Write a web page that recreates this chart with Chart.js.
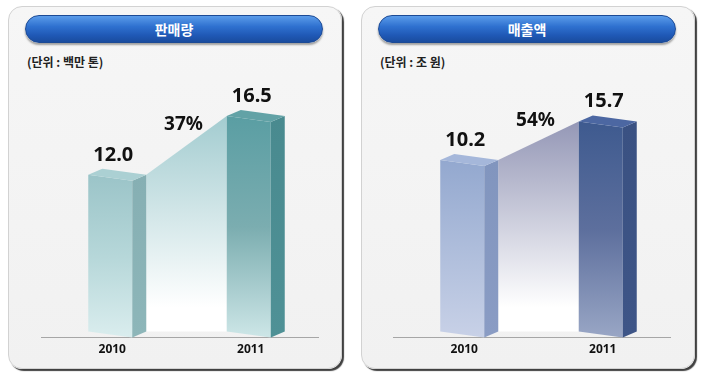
<!DOCTYPE html>
<html>
<head>
<meta charset="utf-8">
<script src="https://cdn.jsdelivr.net/npm/chart.js@4.4.0/dist/chart.umd.min.js"></script>
<style>
  body { margin: 0; background: #fff; width: 705px; height: 375px; overflow: hidden; }
  .panel {
    position: absolute; top: 6px; width: 332px; height: 361px;
    border: 1px solid #d2d2d2; border-radius: 14px;
    background: linear-gradient(#f6f6f6, #f1f1f1);
    box-shadow: 2px 2px 1px rgba(30, 30, 30, 0.85);
  }
  .pill {
    position: absolute; left: 16px; top: 8px; width: 296px; height: 26px;
    border-radius: 14px; border: 1px solid #1c4a95;
    background: linear-gradient(#5b9cea 0%, #2f71d0 40%, #1f58b5 75%, #1a4c9e 100%);
    box-shadow: 0 2px 2px rgba(0, 0, 0, 0.35);
    color: #fff; font: bold 14px "Noto Sans CJK KR", sans-serif;
    text-align: center; line-height: 26px;
  }
  .unit {
    position: absolute; left: 18px; top: 46px;
    font: bold 12px "Noto Sans CJK KR", sans-serif; color: #222;
  }
  canvas { position: absolute; top: 62px; }
</style>
</head>
<body>
<div class="panel" style="left:8px">
  <div class="pill">판매량</div>
  <div class="unit">(단위 : 백만 톤)</div>
</div>
<div class="panel" style="left:361px">
  <div class="pill">매출액</div>
  <div class="unit">(단위 : 조 원)</div>
</div>
<canvas id="volumeChart" width="334" height="300" style="left:8px"></canvas>
<canvas id="revenueChart" width="334" height="300" style="left:360px"></canvas>

<script>
const years = ["2010", "2011"];
const salesVolume = [12.0, 16.5];   // 백만 톤
const salesRevenue = [10.2, 15.7];  // 조 원
const volumeGrowth = "37%";
const revenueGrowth = "54%";

const FONT = '"Noto Sans", "Noto Sans CJK KR", sans-serif';
const DEPTH = 14;  // side face width
const SLANT = 6;   // perspective drop

function poly(ctx, pts, fill) {
  ctx.beginPath();
  ctx.moveTo(pts[0][0], pts[0][1]);
  for (let i = 1; i < pts.length; i++) ctx.lineTo(pts[i][0], pts[i][1]);
  ctx.closePath();
  ctx.fillStyle = fill;
  ctx.fill();
}

function vGrad(ctx, y0, y1, stops) {
  const g = ctx.createLinearGradient(0, y0, 0, y1);
  stops.forEach((c, i) => g.addColorStop(i / (stops.length - 1), c));
  return g;
}

/**
 * draws the 3D faces, the connector and the value labels
 */
const bar3d = {
  id: "bar3d",
  beforeDatasetsDraw(chart, args, opts) {
    const ctx = chart.ctx;
    const [b1, b2] = chart.getDatasetMeta(0).data;
    const xa = b1.x + b1.width / 2 + DEPTH;
    const xb = b2.x - b2.width / 2;
    const top = Math.min(b1.y, b2.y) - SLANT;
    ctx.save();
    poly(ctx, [
      [xa, b1.y - SLANT], [xb, b2.y - SLANT],
      [xb, b2.base - SLANT], [xa, b1.base - SLANT],
    ], vGrad(ctx, top, b2.base - 30, [opts.link, "rgba(255,255,255,1)"]));
    ctx.restore();
  },
  afterDatasetsDraw(chart, args, opts) {
    const ctx = chart.ctx;
    const bars = chart.getDatasetMeta(0).data;
    const values = chart.data.datasets[0].data;
    ctx.save();
    bars.forEach((b, i) => {
      const p = opts.palette[i];
      const x0 = b.x - b.width / 2;
      const x1 = b.x + b.width / 2;
      const y = b.y;
      const base = b.base;
      poly(ctx, [[x0, y - SLANT], [x1, y], [x1, base], [x0, base - SLANT]],
        vGrad(ctx, y - SLANT, base, p.front));
      poly(ctx, [[x1, y], [x1 + DEPTH, y - SLANT], [x1 + DEPTH, base - SLANT], [x1, base]],
        vGrad(ctx, y - SLANT, base, p.side));
      poly(ctx, [[x0, y - SLANT], [x1, y], [x1 + DEPTH, y - SLANT], [x0 + DEPTH, y - 2 * SLANT]],
        p.top);

      ctx.fillStyle = "#111";
      ctx.font = "bold 20px " + FONT;
      ctx.textAlign = "center";
      ctx.textBaseline = "alphabetic";
      ctx.fillText(values[i].toFixed(1), b.x + 3, y - SLANT - 14);
    });
    const [b1, b2] = bars;
    ctx.font = "bold 19px " + FONT;
    ctx.fillText(opts.growth, (b1.x + b2.x) / 2 + 4, (b1.y + b2.y) / 2 - SLANT - 15);
    ctx.restore();
  },
};

function makeChart(id, values, yMin, yMax, growth, palette, link) {
  const ctx = document.getElementById(id).getContext("2d");
  return new Chart(ctx, {
    type: "bar",
    data: {
      labels: years,
      datasets: [{
        data: values,
        base: yMin,
        backgroundColor: "rgba(0,0,0,0)",
        borderWidth: 0,
        barThickness: 44,
      }],
    },
    options: {
      responsive: false,
      animation: false,
      layout: { padding: { left: 33, right: 24, top: 0, bottom: 0 } },
      plugins: {
        legend: { display: false },
        tooltip: { enabled: false },
        bar3d: { growth, palette, link },
      },
      scales: {
        x: {
          grid: { color: "rgba(0,0,0,0)", drawTicks: false },
          border: { display: true, color: "#a6a6a6", width: 1 },
          ticks: { color: "#111", padding: 5, labelOffset: 2, font: { family: FONT, size: 12, weight: "bold" } },
        },
        y: { display: false, min: yMin, max: yMax },
      },
    },
    plugins: [bar3d],
  });
}

makeChart("volumeChart", salesVolume, 0, 21.1, volumeGrowth, [
  { front: ["#9bc4c8", "#b6d7d9", "#daedee"], side: ["#86afb3", "#8db6b9"], top: "#abd0d3" },
  { front: ["#5a9ea3", "#7badb0", "#cde6e7"], side: ["#498a8f", "#4f9196"], top: "#62a2a6" },
], "#a3ccd0");

makeChart("revenueChart", salesRevenue, -14.2, 25.0, revenueGrowth, [
  { front: ["#93a8cf", "#aebddb", "#c8d1e7"], side: ["#8195be", "#8a9cc4"], top: "#a5b7da" },
  { front: ["#3e5a8f", "#5d6f9d", "#99a6c5"], side: ["#3a5182", "#3e5587"], top: "#4c67a2" },
], "#9497b6");
</script>
</body>
</html>
